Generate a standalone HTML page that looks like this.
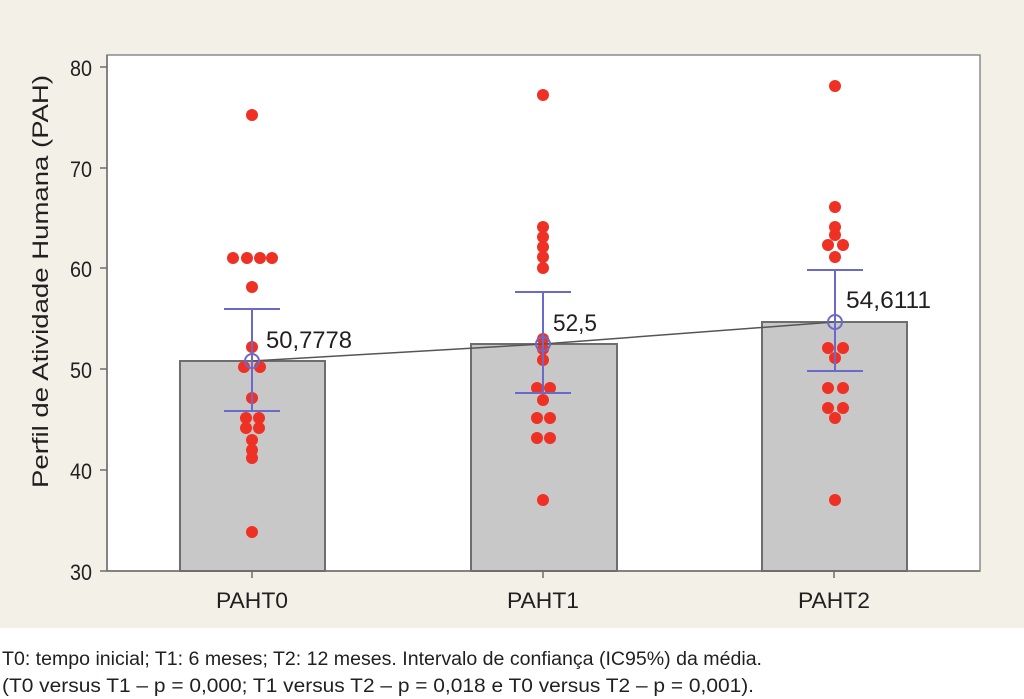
<!DOCTYPE html>
<html><head><meta charset="utf-8"><style>
html,body{margin:0;padding:0;background:#fff;}
svg{display:block;}
text{font-family:"Liberation Sans Narrow","Liberation Sans",sans-serif;fill:#231f20;}
</style></head><body>
<svg width="1024" height="699" viewBox="0 0 1024 699" xmlns="http://www.w3.org/2000/svg">
<rect x="0" y="0" width="1024" height="628" fill="#f3f0e8"/>
<rect x="107" y="55" width="873" height="516" fill="#fff" stroke="#8a8a8a" stroke-width="1.5"/>
<rect x="180" y="361" width="145" height="210" fill="#c8c8c8" stroke="#6e6e6e" stroke-width="2"/>
<rect x="471" y="344" width="146" height="227" fill="#c8c8c8" stroke="#6e6e6e" stroke-width="2"/>
<rect x="762" y="322" width="145" height="249" fill="#c8c8c8" stroke="#6e6e6e" stroke-width="2"/>
<line x1="107" y1="55" x2="107" y2="571" stroke="#6e6e6e" stroke-width="1.5"/>
<line x1="107" y1="571" x2="980" y2="571" stroke="#6e6e6e" stroke-width="1.5"/>
<g stroke="#6e6e6e" stroke-width="1.5">
<line x1="100" y1="67" x2="107" y2="67"/><line x1="100" y1="168" x2="107" y2="168"/>
<line x1="100" y1="268" x2="107" y2="268"/><line x1="100" y1="369" x2="107" y2="369"/>
<line x1="100" y1="470" x2="107" y2="470"/><line x1="100" y1="571" x2="107" y2="571"/>
<line x1="252" y1="571" x2="252" y2="578"/><line x1="543" y1="571" x2="543" y2="578"/><line x1="834" y1="571" x2="834" y2="578"/>
</g>
<g font-size="22">
<text x="70" y="76" textLength="22" lengthAdjust="spacingAndGlyphs">80</text>
<text x="70" y="177" textLength="22" lengthAdjust="spacingAndGlyphs">70</text>
<text x="70" y="277" textLength="22" lengthAdjust="spacingAndGlyphs">60</text>
<text x="70" y="378" textLength="22" lengthAdjust="spacingAndGlyphs">50</text>
<text x="70" y="479" textLength="22" lengthAdjust="spacingAndGlyphs">40</text>
<text x="70" y="580" textLength="22" lengthAdjust="spacingAndGlyphs">30</text>
</g>
<g font-size="22">
<text x="216" y="608" textLength="72" lengthAdjust="spacingAndGlyphs">PAHT0</text>
<text x="507" y="608" textLength="72" lengthAdjust="spacingAndGlyphs">PAHT1</text>
<text x="798" y="608" textLength="72" lengthAdjust="spacingAndGlyphs">PAHT2</text>
</g>
<text font-size="22" transform="translate(48,488) rotate(-90)" textLength="413" lengthAdjust="spacingAndGlyphs">Perfil de Atividade Humana (PAH)</text>
<g fill="#ee3124">
<circle cx="252" cy="115" r="6"/>
<circle cx="233" cy="258" r="6"/><circle cx="247" cy="258" r="6"/><circle cx="260" cy="258" r="6"/><circle cx="272" cy="258" r="6"/>
<circle cx="252" cy="287" r="6"/>
<circle cx="252" cy="347" r="6"/>
<circle cx="244" cy="367" r="6"/><circle cx="260" cy="367" r="6"/>
<circle cx="252" cy="398" r="6"/>
<circle cx="246" cy="418" r="6"/><circle cx="259" cy="418" r="6"/>
<circle cx="246" cy="428" r="6"/><circle cx="259" cy="428" r="6"/>
<circle cx="252" cy="440" r="6"/><circle cx="252" cy="450" r="6"/><circle cx="252" cy="458" r="6"/>
<circle cx="252" cy="532" r="6"/>
<circle cx="543" cy="95" r="6"/>
<circle cx="543" cy="227" r="6"/><circle cx="543" cy="237" r="6"/><circle cx="543" cy="247" r="6"/><circle cx="543" cy="257" r="6"/><circle cx="543" cy="268" r="6"/>
<circle cx="543" cy="339" r="6"/><circle cx="543" cy="349" r="6"/><circle cx="543" cy="360" r="6"/>
<circle cx="537" cy="388" r="6"/><circle cx="550" cy="388" r="6"/>
<circle cx="543" cy="400" r="6"/>
<circle cx="537" cy="418" r="6"/><circle cx="550" cy="418" r="6"/>
<circle cx="537" cy="438" r="6"/><circle cx="550" cy="438" r="6"/>
<circle cx="543" cy="500" r="6"/>
<circle cx="835" cy="86" r="6"/>
<circle cx="835" cy="207" r="6"/><circle cx="835" cy="227" r="6"/><circle cx="835" cy="235" r="6"/>
<circle cx="828" cy="245" r="6"/><circle cx="843" cy="245" r="6"/>
<circle cx="835" cy="257" r="6"/>
<circle cx="828" cy="348" r="6"/><circle cx="843" cy="348" r="6"/><circle cx="835" cy="358" r="6"/>
<circle cx="828" cy="388" r="6"/><circle cx="843" cy="388" r="6"/>
<circle cx="828" cy="408" r="6"/><circle cx="843" cy="408" r="6"/><circle cx="835" cy="418" r="6"/>
<circle cx="835" cy="500" r="6"/>
</g>
<polyline points="252,361 543,344 834,322" fill="none" stroke="#555" stroke-width="1.5"/>
<g stroke="#6a6ac8" stroke-width="2" fill="none">
<line x1="252" y1="309" x2="252" y2="411"/><line x1="224" y1="309" x2="280" y2="309"/><line x1="224" y1="411" x2="280" y2="411"/>
<circle cx="252" cy="361" r="7"/>
<line x1="543" y1="292" x2="543" y2="393"/><line x1="515" y1="292" x2="571" y2="292"/><line x1="515" y1="393" x2="571" y2="393"/>
<circle cx="543" cy="344" r="7"/>
<line x1="835" y1="270" x2="835" y2="371"/><line x1="807" y1="270" x2="863" y2="270"/><line x1="807" y1="371" x2="863" y2="371"/>
<circle cx="835" cy="322" r="7"/>
</g>
<g font-size="24">
<text x="266" y="348" textLength="86" lengthAdjust="spacingAndGlyphs">50,7778</text>
<text x="553" y="331" textLength="44" lengthAdjust="spacingAndGlyphs">52,5</text>
<text x="846" y="308" textLength="85" lengthAdjust="spacingAndGlyphs">54,6111</text>
</g>
<g font-size="19">
<text x="2" y="665" textLength="760" lengthAdjust="spacingAndGlyphs">T0: tempo inicial; T1: 6 meses; T2: 12 meses. Intervalo de confiança (IC95%) da média.</text>
<text x="2" y="692" textLength="752" lengthAdjust="spacingAndGlyphs">(T0 versus T1 – p = 0,000; T1 versus T2 – p = 0,018 e T0 versus T2 – p = 0,001).</text>
</g>
</svg>
</body></html>
